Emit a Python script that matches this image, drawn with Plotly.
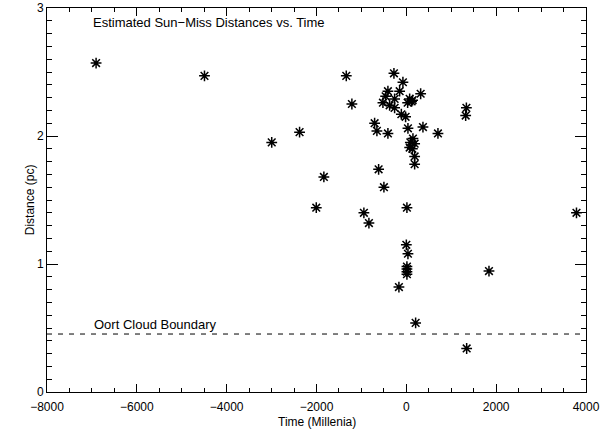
import plotly.graph_objects as go

# estimated close approaches: time (millenia) and miss distance (pc)
time_kyr = [-6907, -4494, -2997, -2377, -2005, -1836, -1337, -1212, -945, -833,
            -706, -655, -617, -521, -499, -461, -410, -410, -372, -276,
            -261, -261, -165, -149, -111, -76, -16, 0, 13, 13,
            13, 13, 13, 29, 36, 36, 74, 74, 89, 118,
            134, 140, 147, 185, 185, 185, 207, 319, 370, 704,
            1321, 1337, 1343, 1840, 3788]
distance_pc = [2.57, 2.47, 1.95, 2.03, 1.44, 1.68, 2.47, 2.25, 1.40, 1.32,
               2.10, 2.04, 1.74, 2.26, 1.60, 2.31, 2.35, 2.02, 2.24, 2.49,
               2.29, 2.22, 0.82, 2.35, 2.17, 2.42, 2.15, 1.15, 1.44, 0.98,
               0.96, 0.94, 0.92, 2.26, 2.06, 1.08, 2.29, 1.91, 1.95, 2.27,
               1.90, 2.28, 1.98, 1.94, 1.84, 1.78, 0.54, 2.33, 2.07, 2.02,
               2.16, 2.22, 0.34, 0.945, 1.40]
oort_boundary = 0.453
x_ticks = [-8000, -6000, -4000, -2000, 0, 2000, 4000]
y_ticks = [0, 1, 2, 3]

font = dict(family="Liberation Sans", size=13, color="black")
small = dict(family="Liberation Sans", size=12, color="black")

fig = go.Figure()
fig.add_trace(go.Scatter(
    x=time_kyr, y=distance_pc, mode="markers",
    marker=dict(symbol="asterisk-open", size=9, color="black",
                line=dict(color="black", width=1.5)),
    showlegend=False, hoverinfo="x+y"))

fig.add_shape(type="line", xref="paper", yref="y", x0=0, x1=1,
              y0=oort_boundary, y1=oort_boundary,
              line=dict(color="black", width=1, dash="5px,6px"))

fig.add_annotation(text="Estimated Sun\u2212Miss Distances vs. Time", xref="paper", yref="paper",
                   x=0.082, y=0.961, xanchor="left", yanchor="middle", showarrow=False, font=font)
fig.add_annotation(text="Oort Cloud Boundary", xref="paper", yref="paper",
                   x=0.083, y=0.1745, xanchor="left", yanchor="middle", showarrow=False, font=font)
# axis titles placed by hand so they fit the tight margins
fig.add_annotation(text="Time (Millenia)", xref="paper", yref="paper",
                   x=0.5, y=-0.099, xanchor="center", yanchor="bottom", showarrow=False, font=small,
                   borderpad=0)
fig.add_annotation(text="Distance (pc)", xref="paper", yref="paper", textangle=-90,
                   x=-0.031, y=0.5, xanchor="center", yanchor="middle", showarrow=False, font=small)

axis_common = dict(showline=True, linecolor="black", linewidth=1, mirror="ticks",
                   ticks="inside", tickcolor="black", tickwidth=1, showgrid=False,
                   zeroline=False, tickfont=small, automargin=False)
fig.update_xaxes(range=[-8000, 4000], tickvals=x_ticks,
                 ticktext=[str(v).replace("-", "\u2212") for v in x_ticks], ticklen=8,
                 ticklabelstandoff=4,
                 minor=dict(dtick=500, ticks="inside", ticklen=4, tickcolor="black", showgrid=False),
                 **axis_common)
fig.update_yaxes(range=[0, 3], tickvals=y_ticks, ticklen=11,
                 minor=dict(dtick=0.1, ticks="inside", ticklen=5, tickcolor="black", showgrid=False),
                 **axis_common)

fig.update_layout(width=612, height=431, margin=dict(l=47, r=26, t=8, b=39),
                  paper_bgcolor="white", plot_bgcolor="white", font=font)
# drop the default page margin so the figure sits at the window's top-left corner
fig.write_html("out.html", config={"displayModeBar": False},
               post_script="document.body.style.margin='0';")
